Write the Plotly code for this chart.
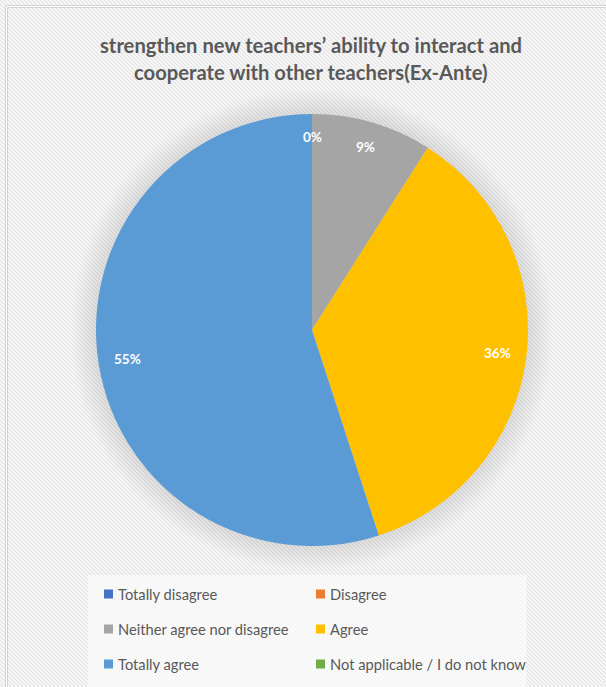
import base64
import math
import plotly.graph_objects as go

# ---- data -------------------------------------------------------------
categories = [
    "Totally disagree",
    "Disagree",
    "Neither agree nor disagree",
    "Agree",
    "Totally agree",
    "Not applicable / I do not know",
]
shares = [0, 0, 9, 36, 55, 0]  # percent of respondents
colors = ["#4472C4", "#ED7D31", "#A5A5A5", "#FFC000", "#5B9BD5", "#70AD47"]
title_lines = [
    "strengthen new teachers’ ability to interact and",
    "cooperate with other teachers(Ex-Ante)",
]

# ---- canvas geometry (pixels) -----------------------------------------
W, H = 606, 687
CX, CY, R = 312, 330, 216          # pie centre and radius
TEXT_GREY = "#595959"
FONT = "Lato"


def px_x(x):
    return x / W


def px_y(y):
    return 1 - y / H


# striped chart-area background with a soft shadow around the pie
svg = f"""<svg xmlns='http://www.w3.org/2000/svg' width='{W}' height='{H}'>
<defs>
 <pattern id='st' width='4' height='4' patternUnits='userSpaceOnUse'>
  <rect width='4' height='4' fill='#fbfbfb'/>
  <path d='M-1,-1 L5,5 M-1,3 L1,5 M3,-1 L5,1' stroke='#e4e4e4' stroke-width='1.3'/>
 </pattern>
 <radialGradient id='sh' cx='{CX}' cy='{CY}' r='{R + 26}' gradientUnits='userSpaceOnUse'>
  <stop offset='{R / (R + 26):.3f}' stop-color='#000' stop-opacity='0.10'/>
  <stop offset='1' stop-color='#000' stop-opacity='0'/>
 </radialGradient>
</defs>
<rect width='{W}' height='{H}' fill='url(#st)'/>
<circle cx='{CX}' cy='{CY}' r='{R + 26}' fill='url(#sh)'/>
<rect x='5.5' y='5.5' width='{W + 20}' height='{H + 20}' fill='none' stroke='#d4d4d4' stroke-width='1'/>
<rect x='6.5' y='6.5' width='{W + 20}' height='{H + 20}' fill='none' stroke='#ffffff' stroke-width='1'/>
<rect x='7.5' y='7.5' width='{W + 20}' height='{H + 20}' fill='none' stroke='#d4d4d4' stroke-width='1'/>
</svg>"""
bg_uri = "data:image/svg+xml;base64," + base64.b64encode(svg.encode()).decode()

fig = go.Figure(
    go.Pie(
        labels=categories,
        values=shares,
        marker=dict(colors=colors, line=dict(width=0)),
        sort=False,
        direction="clockwise",
        rotation=0,
        textinfo="none",
        hoverinfo="label+percent",
        showlegend=False,
        domain=dict(
            x=[px_x(CX - R), px_x(CX + R)],
            y=[px_y(CY + R), px_y(CY - R)],
        ),
    )
)

annotations = []
shapes = []

# title, one annotation per line
for i, line in enumerate(title_lines):
    annotations.append(dict(
        text=f"<b>{line}</b>", x=px_x(311), y=px_y(45 + 27 * i),
        xref="paper", yref="paper", showarrow=False,
        xanchor="center", yanchor="middle",
        font=dict(family=FONT, size=20.2, color=TEXT_GREY),
    ))

# percentage labels placed just inside the rim of each slice
total = sum(shares)
cum = 0
seen = set()
for v in shares:
    theta = math.radians(360 * (cum + v / 2) / total)
    cum += v
    label = f"{v:.0f}%"
    w_txt, h_txt = 8.5 * len(label), 14
    inset = 16 + abs(math.sin(theta)) * w_txt / 2 + abs(math.cos(theta)) * h_txt / 2
    r_lab = R - inset
    lx = CX + r_lab * math.sin(theta)
    ly = CY - r_lab * math.cos(theta)
    key = (label, round(lx), round(ly))
    if key in seen:
        continue
    seen.add(key)
    annotations.append(dict(
        text=f"<b>{label}</b>", x=px_x(lx), y=px_y(ly),
        xref="paper", yref="paper", showarrow=False,
        xanchor="center", yanchor="middle",
        font=dict(family=FONT, size=13.5, color="white"),
    ))

# legend panel
shapes.append(dict(
    type="rect", xref="paper", yref="paper",
    x0=px_x(88), x1=px_x(526), y0=px_y(575), y1=px_y(H + 2),
    fillcolor="rgba(255,255,255,0.55)", line=dict(width=0), layer="below",
))
col_x = [104, 316]
row_y = [594, 629, 664]
for i, (name, col) in enumerate(zip(categories, colors)):
    x0 = col_x[i % 2]
    y0 = row_y[i // 2]
    shapes.append(dict(
        type="rect", xref="paper", yref="paper",
        x0=px_x(x0), x1=px_x(x0 + 9), y0=px_y(y0 + 4.5), y1=px_y(y0 - 4.5),
        fillcolor=col, line=dict(width=0),
    ))
    annotations.append(dict(
        text=name, x=px_x(x0 + 12), y=px_y(y0),
        xref="paper", yref="paper", showarrow=False,
        xanchor="left", yanchor="middle",
        font=dict(family=FONT, size=14.7, color=TEXT_GREY),
    ))

fig.update_layout(
    width=W, height=H,
    margin=dict(l=0, r=0, t=0, b=0),
    paper_bgcolor="white",
    plot_bgcolor="rgba(0,0,0,0)",
    images=[dict(
        source=bg_uri, xref="paper", yref="paper",
        x=0, y=1, sizex=1, sizey=1, xanchor="left", yanchor="top",
        sizing="stretch", layer="below",
    )],
    annotations=annotations,
    shapes=shapes,
    font=dict(family=FONT),
)

fig.write_html("out.html", config={"displayModeBar": False})
